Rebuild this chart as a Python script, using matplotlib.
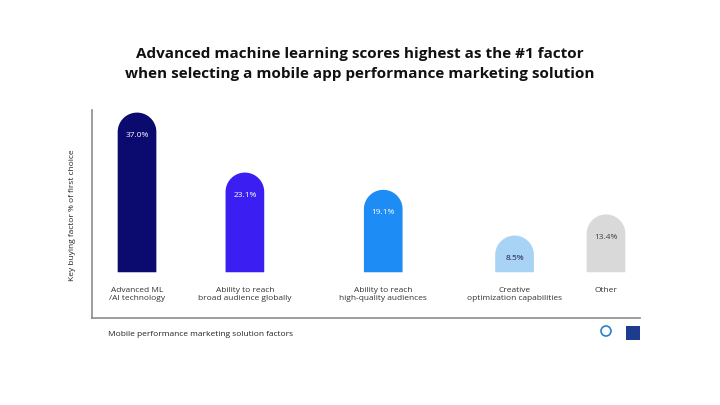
import matplotlib.pyplot as plt
from matplotlib.patches import Ellipse, Rectangle, Polygon
import numpy as np

plt.rcParams['font.family'] = ['Open Sans', 'DejaVu Sans']

# chart data
categories = ['Advanced ML\n/AI technology', 'Ability to reach\nbroad audience globally',
              'Ability to reach\nhigh-quality audiences', 'Creative\noptimization capabilities', 'Other']
values = [37.0, 23.1, 19.1, 8.5, 13.4]
value_labels = ['37.0%', '23.1%', '19.1%', '8.5%', '13.4%']
colors = ['#0b0a6e', '#3b1ff2', '#1e8cf5', '#a9d3f4', '#d9d9d9']
label_colors = ['white', 'white', 'white', '#1a1a4a', '#444444']
slots = [0, 0.92, 2.10, 3.22, 4.0]  # horizontal layout of the bars

fig = plt.figure(figsize=(7.2, 4.05), dpi=100)
ax = fig.add_axes([92 / 720, 1 - 318 / 405, 548 / 720, 208 / 405])
ax.set_xlim(-0.384, 4.29)
ax.set_ylim(-10.6, 37.6)

bar_w = 0.33
fig.canvas.draw()
# size of the rounded cap in data units (half bar width in pixels)
px_per_x = ax.transData.transform((1, 0))[0] - ax.transData.transform((0, 0))[0]
px_per_y = ax.transData.transform((0, 1))[1] - ax.transData.transform((0, 0))[1]
r_y = bar_w / 2 * px_per_x / px_per_y
t = np.linspace(0, np.pi, 60)

for x, v, c, lab, lc, cat in zip(slots, values, colors, value_labels, label_colors, categories):
    body = v - r_y
    # bar outline: bottom corners, then the rounded top
    pts = [(x + bar_w / 2, 0)]
    pts += list(zip(x + bar_w / 2 * np.cos(t), body + r_y * np.sin(t)))
    pts += [(x - bar_w / 2, 0)]
    ax.add_patch(Polygon(pts, closed=True, color=c, lw=0))
    ax.annotate(lab, (x, v), xytext=(0, -14), textcoords='offset points',
                ha='center', va='top', fontsize=6, color=lc)
    ax.text(x, -3.4, cat, ha='center', va='top', fontsize=6, color='#333333',
            linespacing=1.3)

ax.set_xticks([])
ax.set_yticks([])
for s in ['top', 'right']:
    ax.spines[s].set_visible(False)
for s in ['left', 'bottom']:
    ax.spines[s].set_color('#8c8c8c')
    ax.spines[s].set_linewidth(1.2)

fig.text(72 / 720, 1 - 215 / 405, 'Key buying factor % of first choice', rotation=90,
         ha='center', va='center', fontsize=6, color='#222222')
fig.text(108 / 720, 1 - 335 / 405, 'Mobile performance marketing solution factors',
         ha='left', va='center', fontsize=6, color='#222222')
fig.text(360 / 720, 1 - 64 / 405,
         'Advanced machine learning scores highest as the #1 factor\n'
         'when selecting a mobile app performance marketing solution',
         ha='center', va='center', fontsize=11, fontweight='bold', color='#111111',
         linespacing=1.55)

# small logos bottom right
fig.patches.append(Rectangle((626 / 720, 1 - 340 / 405), 14 / 720, 14 / 405,
                             transform=fig.transFigure, color='#1d3c8f', lw=0))
fig.patches.append(Ellipse((606 / 720, 1 - 331 / 405), 10 / 720, 10 / 405,
                           transform=fig.transFigure, fill=False, ec='#2a7fd0', lw=1.2))

fig.savefig('out.png', dpi=100, facecolor='white')
